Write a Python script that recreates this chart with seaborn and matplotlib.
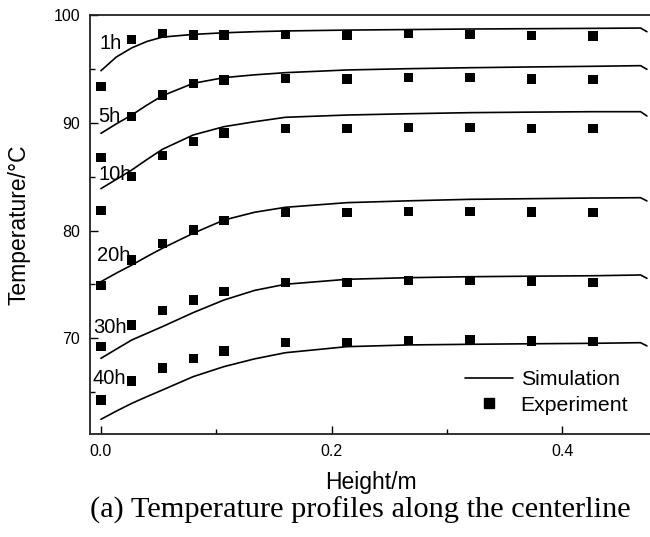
import matplotlib
matplotlib.use("Agg")
import matplotlib.pyplot as plt
from matplotlib.lines import Line2D
import numpy as np
import pandas as pd
import seaborn as sns

# ---- data -------------------------------------------------------------
times = ["1h", "5h", "10h", "20h", "30h", "40h"]

# measurement heights along the centerline (m)
exp_height = [0.0, 0.0267, 0.0533, 0.08, 0.1067, 0.16, 0.2133, 0.2667, 0.32, 0.3733, 0.4267]

exp_1h = [93.4, 97.74, 98.27, 98.14, 98.14, 98.2, 98.14, 98.27, 98.2, 98.08, 98.05]
exp_5h = [86.76, 90.57, 92.58, 93.63, 93.97, 94.12, 94.06, 94.22, 94.19, 94.06, 94.03]
exp_10h = [81.85, 85.0, 86.95, 88.25, 89.05, 89.49, 89.49, 89.58, 89.58, 89.49, 89.45]
exp_20h = [74.92, 77.27, 78.79, 80.05, 80.9, 81.66, 81.66, 81.79, 81.79, 81.73, 81.66]
exp_30h = [69.27, 71.24, 72.57, 73.56, 74.37, 75.17, 75.17, 75.35, 75.35, 75.26, 75.17]
exp_40h = [64.29, 66.05, 67.25, 68.15, 68.83, 69.6, 69.6, 69.79, 69.85, 69.76, 69.7]

# simulated profiles
sim_height = [0.0, 0.0133, 0.0267, 0.04, 0.0533, 0.08, 0.1067, 0.1333, 0.16,
              0.2133, 0.2667, 0.32, 0.3733, 0.4267, 0.468, 0.4735]

sim_1h = [94.83, 96.1, 96.95, 97.55, 97.95, 98.2, 98.35, 98.45, 98.52,
          98.6, 98.65, 98.7, 98.73, 98.76, 98.79, 98.45]
sim_5h = [89.02, 89.9, 90.72, 91.65, 92.51, 93.66, 94.19, 94.45, 94.65,
          94.9, 95.02, 95.11, 95.18, 95.24, 95.3, 94.96]
sim_10h = [83.89, 84.75, 85.62, 86.6, 87.54, 88.87, 89.64, 90.1, 90.51,
           90.72, 90.84, 90.94, 90.99, 91.03, 91.03, 90.63]
sim_20h = [75.26, 76.05, 76.8, 77.6, 78.36, 79.75, 80.98, 81.7, 82.16,
           82.59, 82.76, 82.9, 82.96, 83.02, 83.05, 82.75]
sim_30h = [68.15, 69.0, 69.85, 70.47, 71.09, 72.39, 73.56, 74.45, 75.02,
           75.48, 75.63, 75.72, 75.77, 75.81, 75.88, 75.57]
sim_40h = [62.49, 63.25, 63.97, 64.6, 65.21, 66.45, 67.38, 68.1, 68.67,
           69.23, 69.39, 69.45, 69.5, 69.54, 69.6, 69.3]

# curve label anchors (left edge x, vertical centre y)
label_x = [-0.0009, -0.0023, -0.0023, -0.0037, -0.0067, -0.0072]
label_y = [97.4, 90.57, 85.2, 77.69, 71.03, 66.25]

exp_series = [exp_1h, exp_5h, exp_10h, exp_20h, exp_30h, exp_40h]
sim_series = [sim_1h, sim_5h, sim_10h, sim_20h, sim_30h, sim_40h]

exp_df = pd.concat(
    [pd.DataFrame({"Height": exp_height, "T": v, "time": t}) for t, v in zip(times, exp_series)],
    ignore_index=True,
)
sim_df = pd.concat(
    [pd.DataFrame({"Height": sim_height, "T": v, "time": t}) for t, v in zip(times, sim_series)],
    ignore_index=True,
)

# ---- style ------------------------------------------------------------
sns.set_style("ticks")
plt.rcParams["font.family"] = ["Liberation Sans", "DejaVu Sans"]
plt.rcParams.update({
    "text.color": "black",
    "axes.labelcolor": "black",
    "xtick.color": "black",
    "ytick.color": "black",
})

W, H = 650, 537
fig = plt.figure(figsize=(W / 100, H / 100), dpi=100)
ax_left, ax_right, ax_top, ax_bottom = 90, 652, 15, 434.3
ax = fig.add_axes([ax_left / W, 1 - ax_bottom / H,
                   (ax_right - ax_left) / W, (ax_bottom - ax_top) / H])

palette = {t: "black" for t in times}
sns.lineplot(data=sim_df, x="Height", y="T", hue="time", units="time",
             estimator=None, palette=palette, linewidth=1.2, sort=False,
             legend=False, ax=ax)
sns.scatterplot(data=exp_df, x="Height", y="T", hue="time", palette=palette,
                marker="s", s=44, linewidth=0, legend=False, ax=ax, zorder=3)

for t, lx, ly in zip(times, label_x, label_y):
    ax.text(lx, ly, t, fontsize=14.5, ha="left", va="center", zorder=4)

ax.set_xlim(-0.0095, 0.4779)
ax.set_ylim(61.1, 100)
ax.set_xticks([0.0, 0.2, 0.4])
ax.set_xticklabels(["0.0", "0.2", "0.4"])
ax.set_xticks([0.1, 0.3], minor=True)
ax.set_yticks([70, 80, 90, 100])
ax.set_yticks([65, 75, 85, 95], minor=True)
ax.tick_params(which="both", direction="in", width=1.0, colors="black",
               labelsize=11.5, pad=7)
ax.tick_params(which="major", length=6)
ax.tick_params(which="minor", length=3.5)
ax.tick_params(axis="both", which="both", right=False, top=False)
ax.set_xlabel("")
ax.set_ylabel("")
for side in ["left", "bottom", "top"]:
    ax.spines[side].set_visible(True)
    ax.spines[side].set_linewidth(1.3)
    ax.spines[side].set_color("#222222")
ax.spines["right"].set_visible(False)

handles = [
    Line2D([], [], color="black", linewidth=1.2),
    Line2D([], [], color="black", marker="s", linestyle="none", markersize=6.5),
]
fig.legend(handles, ["Simulation", "Experiment"], loc="upper left",
           bbox_to_anchor=(465 / W, 1 - 370 / H), bbox_transform=fig.transFigure,
           frameon=False, fontsize=15.3, handlelength=2.24, handletextpad=0.38,
           labelspacing=0.32, borderpad=0, borderaxespad=0)

fig.text(19 / W, 1 - 225 / H, "Temperature/\u00b0C", rotation=90,
         ha="center", va="center", fontsize=16.5)
fig.text(371 / W, 1 - 489.3 / H, "Height/m", ha="center", va="baseline",
         fontsize=16.5)
fig.text(360 / W, 1 - 517.3 / H, "(a) Temperature profiles along the centerline",
         ha="center", va="baseline", fontsize=21.9,
         family=["Liberation Serif", "DejaVu Serif"])

fig.savefig("out.png", dpi=100)
